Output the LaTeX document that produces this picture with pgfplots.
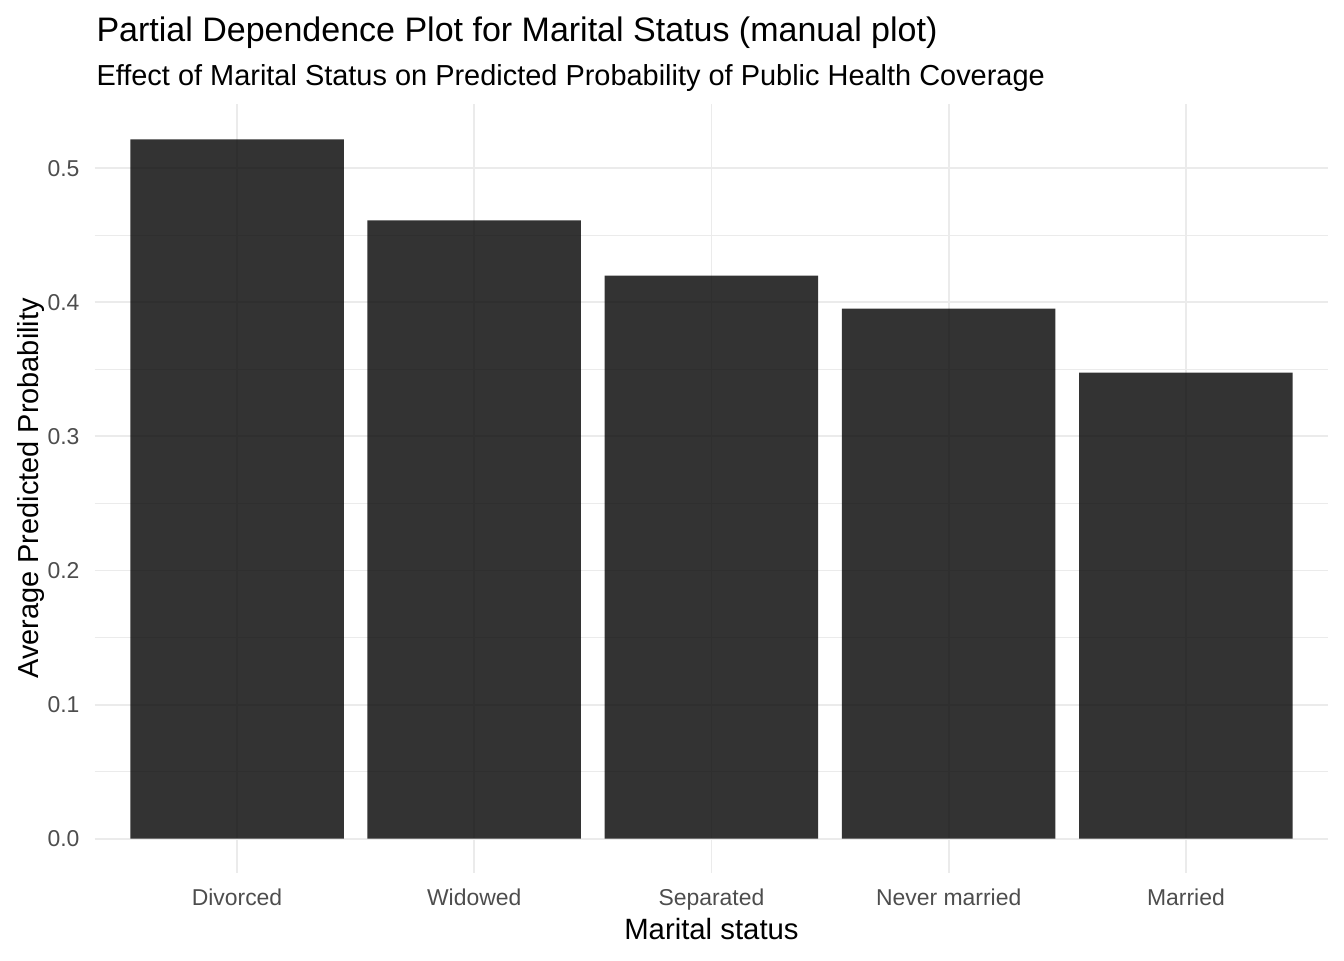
\documentclass[border=0pt]{standalone}
\usepackage{pgfplots}
\pgfplotsset{compat=1.18}
\usepackage{fontspec}
\setmainfont{Liberation Sans}
\definecolor{gridc}{HTML}{EBEBEB}
\definecolor{tickc}{HTML}{4D4D4D}
\begin{document}
\begin{tikzpicture}
\useasboundingbox (-35.5pt,-32.7pt) rectangle (468.5pt,327.3pt);
\begin{axis}[
  at={(0,0)}, anchor=south west,
  scale only axis, width=462.6pt, height=288.3pt,
  xmin=0.4, xmax=5.6, ymin=-0.0254, ymax=0.5478,
  axis line style={draw=none},
  xtick={1,2,3,4,5},
  xticklabels={Divorced,Widowed,Separated,Never married,Married},
  ytick={0,0.1,0.2,0.3,0.4,0.5},
  yticklabels={0.0,0.1,0.2,0.3,0.4,0.5},
  minor ytick={0.05,0.15,0.25,0.35,0.45},
  major tick length=0pt, minor tick length=0pt,
  tick style={draw=none},
  xmajorgrids, ymajorgrids, yminorgrids,
  major grid style={gridc, line width=0.7pt},
  minor grid style={gridc, line width=0.45pt},
  ticklabel style={font=\fontsize{8.6pt}{10pt}\selectfont, text=tickc},
  xticklabel style={anchor=base, inner sep=0pt, yshift=-12.4pt},
  yticklabel style={anchor=east, inner sep=0pt, xshift=-5.5pt},
  clip=false,
]
\addplot[ybar, bar width=0.9, fill=black, fill opacity=0.8, draw=none, bar shift=0pt]
  coordinates {(1,0.5214) (2,0.4610) (3,0.4199) (4,0.3953) (5,0.3475)};
\end{axis}
\node[anchor=base west, inner sep=0pt, font=\fontsize{12.75pt}{15pt}\selectfont] at (0.5pt,311.7pt) {Partial Dependence Plot for Marital Status (manual plot)};
\node[anchor=base west, inner sep=0pt, font=\fontsize{10.85pt}{13pt}\selectfont] at (0.5pt,295.4pt) {Effect of Marital Status on Predicted Probability of Public Health Coverage};
\node[anchor=base, inner sep=0pt, font=\fontsize{11pt}{13pt}\selectfont] at (231.3pt,-25pt) {Marital status};
\node[anchor=base, rotate=90, inner sep=0pt, font=\fontsize{10.85pt}{13pt}\selectfont] at (-21.2pt,144.15pt) {Average Predicted Probability};
\end{tikzpicture}
\end{document}
